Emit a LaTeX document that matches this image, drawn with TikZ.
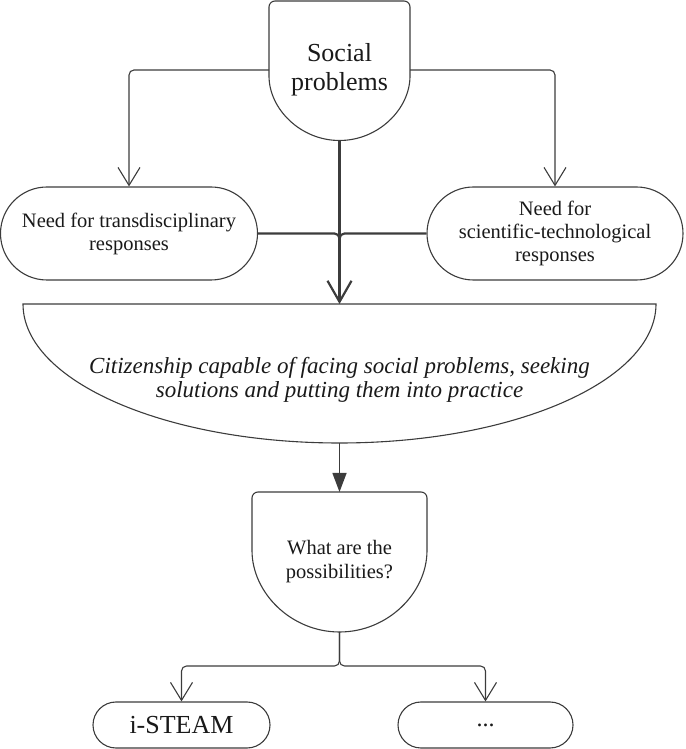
\documentclass[tikz,border=0pt]{standalone}
\usepackage{fontspec}
\setmainfont{Liberation Serif}
\usetikzlibrary{arrows.meta}

\definecolor{linegray}{RGB}{60,60,60}
\definecolor{textblack}{RGB}{25,25,25}

\tikzset{
	outline/.style={draw=linegray, line width=1.1pt},
	pill/.style={outline, rounded corners=#1, align=center, inner sep=0pt, text=textblack},
	conn/.style={draw=linegray, line width=1.1pt, rounded corners=5pt, -{Straight Barb[length=18pt,width=22pt,line width=1.1pt]}},
	thickline/.style={draw=linegray, line width=2.2pt, rounded corners=5pt},
	thickconn/.style={thickline, -{Straight Barb[length=21pt,width=24pt,line width=2.2pt]}},
	fillconn/.style={draw=linegray, line width=1.4pt, -{Triangle[length=19pt,width=14pt]}},
	label/.style={align=center, inner sep=0pt, text=textblack}
}

\begin{document}
\begin{tikzpicture}[x=1pt,y=1pt]
		\useasboundingbox (0,0) rectangle (685,749);
		
		% social problems
		\draw[outline, rounded corners=6pt] (269,679) -- (269,748) -- (410,748) -- (410,679)
			arc[start angle=0, end angle=-180, radius=70.5] -- cycle;
		\node[label, font=\fontsize{26}{29}\selectfont] at (339.5,679) (sp) {Social\\problems};
		\coordinate (sp-w) at (269,679);
		\coordinate (sp-e) at (410,679);
		\coordinate (sp-s) at (339.5,608.5);
		
		% the two needs
		\node[pill=46.5pt, minimum width=257pt, minimum height=93pt,
			font=\fontsize{20.5}{23}\selectfont] at (129,515.5) (trans)
			{Need for transdisciplinary\\responses};
		\node[pill=46.5pt, minimum width=256pt, minimum height=93pt,
			font=\fontsize{20.5}{23}\selectfont] at (555,515.5) (sci)
			{Need for\\scientific-technological\\responses};
		
		% citizenship
		\draw[outline] (23,445) -- (656,445)
			arc[start angle=0, end angle=-180, x radius=316.5, y radius=139] -- cycle;
		\node[label, font=\fontsize{23}{24}\selectfont\itshape] at (339.5,369) (cit)
			{Citizenship capable of facing social problems, seeking\\solutions and putting them into practice};
		\coordinate (cit-n) at (339.5,445);
		\coordinate (cit-s) at (339.5,306);
		\coordinate (join) at (339.5,515.5);
		
		% possibilities
		\draw[outline, rounded corners=6pt] (252,204.5) -- (252,257) -- (427,257) -- (427,204.5)
			arc[start angle=0, end angle=-180, radius=87.5] -- cycle;
		\node[label, font=\fontsize{20.5}{24}\selectfont] at (339.5,187) (poss)
			{What are the\\possibilities?};
		\coordinate (poss-n) at (339.5,257);
		\coordinate (poss-s) at (339.5,117);
		\coordinate (split) at (339.5,83);
		
		% options
		\node[pill=23pt, minimum width=177pt, minimum height=46pt,
			font=\fontsize{26}{28}\selectfont] at (181.5,24) (steam) {i-STEAM};
		\node[pill=23pt, minimum width=175pt, minimum height=46pt,
			font=\fontsize{24}{28}\selectfont] at (485.5,24) (more) {...};
		
		% connectors
		\draw[conn] (sp-w) -| (trans.north);
		\draw[conn] (sp-e) -| (sci.north);
		\draw[thickconn] (sp-s) -- (cit-n);
		\draw[thickline] (trans.east) -- (join) -- ++(0,-12);
		\draw[thickline] (sci.west) -- (join) -- ++(0,-12);
		\draw[fillconn] (cit-s) -- (poss-n);
		\draw[conn] (poss-s) -- (split) -| (steam.north);
		\draw[conn] (poss-s) -- (split) -| (more.north);
	\end{tikzpicture}
\end{document}
